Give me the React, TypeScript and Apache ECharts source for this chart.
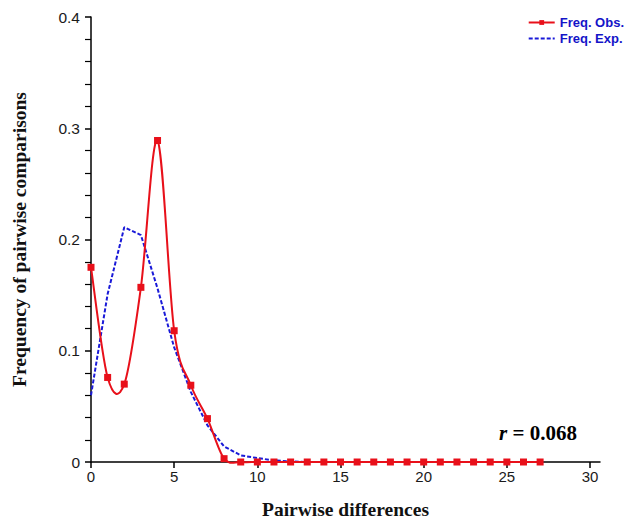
import React, { useEffect, useRef } from "react";
import * as echarts from "echarts";

const diffs = [0,1,2,3,4,5,6,7,8,9,10,11,12,13,14,15,16,17,18,19,20,21,22,23,24,25,26,27];
const freqObs = [0.175,0.076,0.070,0.157,0.289,0.118,0.069,0.039,0.003,0,0,0,0,0,0,0,0,0,0,0,0,0,0,0,0,0,0,0];
const freqExp = [0.060,0.151,0.211,0.204,0.156,0.103,0.063,0.033,0.014,0.006,0.0035,0.0015,0.0005,0,0,0,0,0,0,0,0,0,0,0,0,0,0,0];
const xTicks = [0,5,10,15,20,25,30];
const seriesNames = ["Freq. Obs.", "Freq. Exp."];
const xName = "Pairwise differences";
const yName = "Frequency of pairwise comparisons";

const RED = "#e8101a";
const BLUE = "#1a1ad8";

export default function App() {
  const ref = useRef<HTMLDivElement>(null);
  useEffect(() => {
    const chart = echarts.init(ref.current!, null, { renderer: "svg" });
    const serif = "'Liberation Serif', 'Times New Roman', serif";
    const sans = "'Liberation Sans', Arial, sans-serif";
    chart.setOption({
      animation: false,
      backgroundColor: "#ffffff",
      grid: { left: 91, top: 17, right: 30, bottom: 57, containLabel: false },
      legend: {
        orient: "vertical",
        right: 1,
        top: 11,
        itemWidth: 26,
        itemHeight: 6,
        itemGap: 3,
        textStyle: { color: "#1414c8", fontFamily: "'Liberation Sans Narrow', " + sans, fontWeight: "bold", fontSize: 13 },
        data: [
          { name: seriesNames[0], lineStyle: { opacity: 1, width: 2, color: RED } },
          { name: seriesNames[1], itemStyle: { opacity: 0 } },
        ],
      },
      xAxis: {
        type: "value",
        min: 0,
        max: 30.6,
        interval: 5,
        name: xName,
        nameLocation: "middle",
        nameGap: 37,
        nameTextStyle: { fontFamily: serif, fontWeight: "bold", fontSize: 19.5, color: "#111" },
        axisLine: { lineStyle: { color: "#000", width: 1.5 } },
        axisTick: { customValues: xTicks, length: 6, lineStyle: { color: "#000", width: 1.5 } },
        axisLabel: { customValues: xTicks, fontFamily: sans, fontSize: 15, color: "#1a1a1a", margin: 7 },
        splitLine: { show: false },
      },
      yAxis: {
        type: "value",
        min: 0,
        max: 0.4,
        interval: 0.1,
        name: yName,
        nameLocation: "middle",
        nameGap: 62,
        nameTextStyle: { fontFamily: serif, fontWeight: "bold", fontSize: 19.5, color: "#111" },
        axisLine: { show: true, lineStyle: { color: "#000", width: 1.5 } },
        axisTick: { show: true, length: 6, lineStyle: { color: "#000", width: 1.5 } },
        minorTick: { show: true, splitNumber: 5, length: 6, lineStyle: { color: "#000", width: 1.2 } },
        axisLabel: { fontFamily: sans, fontSize: 15.5, color: "#1a1a1a", margin: 11 },
        splitLine: { show: false },
      },
      series: [
        {
          type: "custom",
          name: "obsSpline",
          silent: true,
          clip: false,
          z: 3,
          data: [[0, 0]],
          renderItem: (_params: any, api: any) => {
            const pts = diffs.map((d, i) => api.coord([d, freqObs[i]]));
            const n = pts.length;
            let path = `M${pts[0][0]},${pts[0][1]}`;
            for (let i = 0; i < n - 1; i++) {
              const p0 = pts[i - 1] || pts[i];
              const p1 = pts[i];
              const p2 = pts[i + 1];
              const p3 = pts[i + 2] || pts[i + 1];
              const c1x = p1[0] + (p2[0] - p0[0]) / 6;
              const c1y = p1[1] + (p2[1] - p0[1]) / 6;
              const c2x = p2[0] - (p3[0] - p1[0]) / 6;
              const c2y = p2[1] - (p3[1] - p1[1]) / 6;
              path += ` C${c1x},${c1y} ${c2x},${c2y} ${p2[0]},${p2[1]}`;
            }
            return {
              type: "path",
              shape: { pathData: path },
              style: { fill: "none", stroke: RED, lineWidth: 2 },
            };
          },
        },
        {
          name: seriesNames[0],
          type: "line",
          data: diffs.map((d, i) => [d, freqObs[i]]),
          symbol: "rect",
          symbolSize: 7,
          itemStyle: { color: RED },
          lineStyle: { color: RED, width: 2, opacity: 0 },
          z: 4,
        },
        {
          name: seriesNames[1],
          type: "line",
          smooth: false,
          data: diffs.map((d, i) => [d, freqExp[i]]),
          showSymbol: false,
          symbol: "none",
          itemStyle: { color: BLUE },
          lineStyle: { color: BLUE, width: 2, type: [4, 2] },
          z: 2,
        },
      ],
      graphic: [
        {
          type: "text",
          left: 499,
          top: 422,
          style: {
            text: "{i|r} = 0.068",
            font: "bold 21px " + serif,
            fill: "#000",
            rich: { i: { fontStyle: "italic", fontWeight: "bold", fontSize: 21, fontFamily: serif } },
          },
        },
      ],
    });
    return () => chart.dispose();
  }, []);
  return <div ref={ref} style={{ width: 630, height: 524, position: "absolute", left: 0, top: 0 }} />;
}
